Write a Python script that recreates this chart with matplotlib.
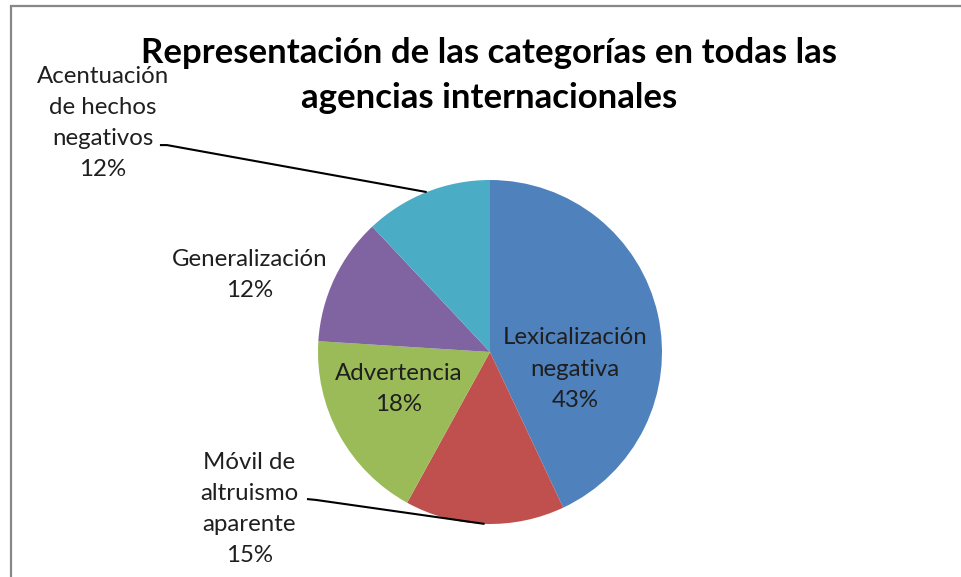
import matplotlib
matplotlib.use("Agg")
import matplotlib.pyplot as plt
import matplotlib.patches as patches
import numpy as np

# data
categories = ["Lexicalización\nnegativa", "Móvil de\naltruismo\naparente",
              "Advertencia", "Generalización", "Acentuación\nde hechos\nnegativos"]
values = [43, 15, 18, 12, 12]
colors = ["#4F81BD", "#C0504D", "#9BBB59", "#8064A2", "#4BACC6"]
title = "Representación de las categorías en todas las\nagencias internacionales"

# label placement (data units, pie radius = 1)
label_pos = [(0.494, -0.099), (-1.400, -0.913), (-0.529, -0.215),
             (-1.395, 0.448), (-2.250, 1.331)]
# leader line elbows for outside labels (index -> points)
leaders = {1: [(-1.064, -0.855), (-1.012, -0.860)],
           4: [(-1.919, 1.203), (-1.878, 1.203)]}

plt.rcParams['font.family'] = ['Lato', 'DejaVu Sans']

fig = plt.figure(figsize=(9.61, 5.77), dpi=100)
ax = fig.add_axes([0, 0, 1, 1])

wedges, _ = ax.pie(values, colors=colors, startangle=90, counterclock=False,
                   radius=1, wedgeprops=dict(linewidth=0))

r_px = 172
cx, cy = 490, 352
ax.set_xlim(-cx / r_px, (961 - cx) / r_px)
ax.set_ylim((cy - 577) / r_px, cy / r_px)
ax.set_aspect('equal')
ax.axis('off')

for i, (w, name, v) in enumerate(zip(wedges, categories, values)):
    x, y = label_pos[i]
    ax.text(x, y, f"{name}\n{v}%", ha='center', va='center', fontsize=17.3,
            color='#1f1f1f', linespacing=1.6)
    if i in leaders:
        mid = np.deg2rad((w.theta1 + w.theta2) / 2)
        pts = leaders[i] + [(np.cos(mid), np.sin(mid))]
        xs, ys = zip(*pts)
        ax.plot(xs, ys, color='black', lw=1.5, solid_capstyle='butt')

fig.text(489 / 961, 1 - 37 / 577, title, ha='center', va='top',
         fontsize=25, fontweight='bold', linespacing=1.5)

border = patches.Rectangle((10.5 / 961, -0.1), 1.2, 1 - 6 / 577 + 0.1,
                           transform=fig.transFigure, fill=False,
                           edgecolor='#878787', lw=1.6, clip_on=False)
fig.patches.append(border)

fig.savefig("out.png", dpi=100)
